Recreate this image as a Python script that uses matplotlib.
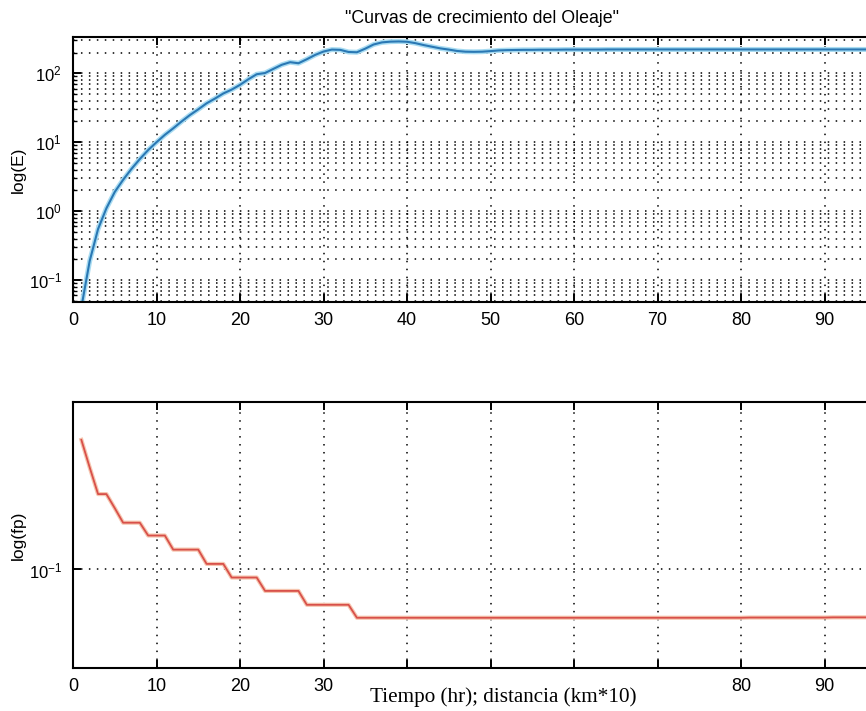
import numpy as np
import matplotlib.pyplot as plt
from matplotlib.ticker import LogLocator, NullLocator, NullFormatter

plt.rcParams['font.family'] = ['Liberation Sans', 'DejaVu Sans']
plt.rcParams['mathtext.fontset'] = 'custom'
plt.rcParams['mathtext.rm'] = 'Liberation Sans'

# hours 1..100
horas = np.arange(1, 101)

# energia del oleaje (log scale)
energia = [0.04, 0.19, 0.55, 1.1, 1.9, 2.85, 4.1, 5.7, 7.7, 10.0,
           12.8, 15.9, 20.0, 24.8, 30.0, 36.7, 43.0, 51.0, 58.0, 68.0,
           82.0, 97.0, 101.0, 116.0, 133.0, 145.0, 140.0, 160.0, 185.0, 207.0,
           221.0, 219.0, 204.0, 202.0, 228.0, 262.0, 281.0, 288.0, 290.0, 287.0,
           274.0, 257.0, 243.0, 230.0, 221.0, 211.0, 206.0, 205.0, 206.0, 210.0,
           215.0, 217.0, 218.0, 219.0, 219.0, 220.0, 220.0, 220.0, 221.0, 221.0,
           221.0, 221.0, 221.0, 222.0, 222.0, 222.0, 222.0, 222.0, 222.0, 222.0,
           222.0, 222.0, 222.0, 222.0, 222.0, 222.0, 222.0, 222.0, 222.0, 222.0,
           222.0, 222.0, 222.0, 222.0, 222.0, 222.0, 222.0, 222.0, 222.0, 222.0,
           222.0, 222.0, 222.0, 222.0, 222.0, 222.0, 222.0, 222.0, 222.0, 222.0]

# frecuencia pico
fp = [0.249, 0.205, 0.170, 0.170, 0.154, 0.139, 0.139, 0.139, 0.127, 0.127,
      0.127, 0.115, 0.115, 0.115, 0.115, 0.104, 0.104, 0.104, 0.0945, 0.0945,
      0.0945, 0.0945, 0.086, 0.086, 0.086, 0.086, 0.086, 0.078, 0.078, 0.078,
      0.078, 0.078, 0.078, 0.0712, 0.0712, 0.0712, 0.0712, 0.0712, 0.0712, 0.0712,
      0.0712, 0.0712, 0.0712, 0.0712, 0.0712, 0.0712, 0.0712, 0.0712, 0.0712, 0.0712,
      0.0712, 0.0712, 0.0712, 0.0712, 0.0712, 0.0712, 0.0712, 0.0712, 0.0712, 0.0712,
      0.0712, 0.0712, 0.0712, 0.0712, 0.0712, 0.0712, 0.0712, 0.0712, 0.0712, 0.0712,
      0.0712, 0.0712, 0.0712, 0.0712, 0.0712, 0.0712, 0.0712, 0.0712, 0.0712, 0.0712,
      0.0713, 0.0713, 0.0713, 0.0713, 0.0713, 0.0713, 0.0713, 0.0713, 0.0713, 0.0713,
      0.0714, 0.0714, 0.0714, 0.0714, 0.0714, 0.0714, 0.0714, 0.0714, 0.0714, 0.0714]

# the 100 tick falls just past the right edge of the picture
xticks = [0, 10, 20, 30, 40, 50, 60, 70, 80, 90]
xlabels_top = ['0', '10', '20', '30', '40', '50', '60', '70', '80', '90']
xlabels_bot = ['0', '10', '20', '30', '', '', '', '', '80', '90']

grid_kw = dict(color='black', linestyle=(0, (1, 4.2)), linewidth=1.1)

fig = plt.figure(figsize=(8.66, 7.11), dpi=100)
ax1 = fig.add_axes([0.0843, 0.5752, 0.9642, 0.3732])
ax2 = fig.add_axes([0.0843, 0.0605, 0.9642, 0.3741])

# top panel
ax1.plot(horas, energia, color='#a9dcf2', linewidth=3.6, solid_capstyle='round')
ax1.plot(horas, energia, color='#2a78b4', linewidth=1.5)
ax1.set_yscale('log')
ax1.set_ylim(0.048, 340)
ax1.set_xlim(0, 100)
ax1.yaxis.set_major_locator(LogLocator(base=10, numticks=10))
ax1.yaxis.set_minor_locator(LogLocator(base=10, subs=np.arange(2, 10), numticks=20))
ax1.yaxis.set_minor_formatter(NullFormatter())
ax1.set_xticks(xticks)
ax1.set_xticklabels(xlabels_top)
ax1.grid(True, which='major', axis='both', **grid_kw)
ax1.grid(True, which='minor', axis='y', **grid_kw)
ax1.set_ylabel('log(E)', fontsize=12.5, labelpad=2)
ax1.set_title('"Curvas de crecimiento del Oleaje"', fontsize=12.8, pad=10, x=0.49)

# bottom panel
ax2.plot(horas, fp, color='#f6c6b0', linewidth=3.0)
ax2.plot(horas, fp, color='#d8504a', linewidth=1.3)
ax2.set_yscale('log')
ax2.set_ylim(0.05, 0.325)
ax2.set_xlim(0, 100)
ax2.set_yticks([0.1])
ax2.yaxis.set_minor_locator(NullLocator())
ax2.set_xticks(xticks)
ax2.set_xticklabels(xlabels_bot)
ax2.grid(True, which='major', axis='both', **grid_kw)
ax2.set_ylabel('log(fp)', fontsize=12.5, labelpad=2)
fig.text(0.581, 0.012, 'Tiempo (hr); distancia (km*10)', fontsize=15.2,
         family=['Liberation Serif', 'DejaVu Serif'], ha='center', va='baseline')

for ax in (ax1, ax2):
    for s in ax.spines.values():
        s.set_linewidth(1.5)
    ax.set_axisbelow(True)
    ax.tick_params(which='major', direction='in', length=6, width=1.4,
                   top=True, right=True, labelsize=13, pad=7)
    ax.tick_params(which='minor', direction='in', length=3, width=1.0,
                   top=True, right=True)
    ax.tick_params(axis='y', labelsize=12, pad=8)

plt.savefig('out.png', dpi=100)
